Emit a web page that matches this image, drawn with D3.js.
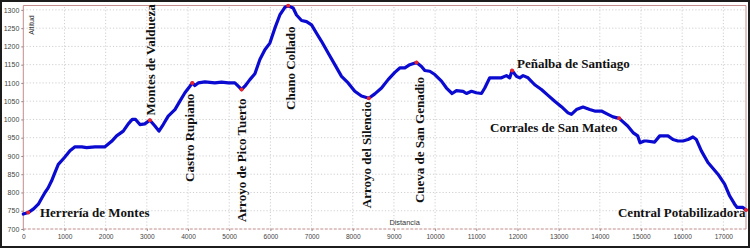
<!DOCTYPE html>
<html>
<head>
<meta charset="utf-8">
<script src="https://cdn.jsdelivr.net/npm/d3@7"></script>
<style>
  html, body { margin: 0; padding: 0; background: #fff; }
  #perfil { width: 750px; height: 252px; }
</style>
</head>
<body>
<div id="perfil"></div>
<script>
// distance along the route (m) and altitude (m)
const distancia = [
  0, 120, 250, 365, 450, 527, 600, 688, 770, 850, 995, 1133, 1255, 1420, 1538, 1740, 1983,
  2145, 2266, 2427, 2549, 2646, 2727, 2832, 2950, 3075, 3197, 3294, 3398, 3519, 3682, 3803,
  3925, 4046, 4103, 4167, 4248, 4410, 4653, 4815, 4977, 5138, 5219, 5300, 5381, 5502, 5624,
  5745, 5867, 5988, 6109, 6230, 6352, 6432, 6553, 6635, 6757, 6878, 7000, 7121, 7242, 7403,
  7565, 7728, 7888, 8050, 8212, 8391, 8536, 8699, 8859, 9022, 9143, 9265, 9386, 9549, 9670,
  9750, 9871, 9993, 10155, 10276, 10413, 10519, 10680, 10762, 10883, 11000, 11126, 11206,
  11327, 11449, 11611, 11733, 11813, 11869, 11976, 12056, 12136, 12257, 12419, 12582, 12743,
  12905, 13068, 13228, 13310, 13432, 13592, 13755, 13876, 14039, 14199, 14320, 14470, 14677,
  14806, 14920, 14976, 15080, 15131, 15332, 15454, 15655, 15777, 15898, 16019, 16141, 16262,
  16345, 16466, 16626, 16869, 17031, 17152, 17274, 17335, 17476, 17550,
];
const altitud = [
  741, 745, 755, 768, 785, 800, 812, 832, 855, 877, 895, 914, 925, 925, 923, 925, 925,
  940, 955, 968, 988, 1000, 1000, 986, 988, 998, 982, 968, 986, 1009, 1027, 1050,
  1073, 1091, 1100, 1093, 1100, 1103, 1100, 1102, 1100, 1100, 1091, 1082, 1091, 1109, 1125,
  1164, 1191, 1209, 1250, 1286, 1307, 1311, 1305, 1286, 1271, 1268, 1259, 1236, 1214, 1182,
  1150, 1118, 1100, 1077, 1064, 1058, 1070, 1086, 1109, 1129, 1141, 1141, 1150, 1156, 1145,
  1134, 1132, 1123, 1105, 1086, 1071, 1079, 1077, 1071, 1077, 1073, 1071, 1086,
  1114, 1114, 1114, 1120, 1114, 1134, 1118, 1114, 1120, 1114, 1095, 1082, 1066,
  1050, 1035, 1018, 1014, 1027, 1034, 1027, 1023, 1023, 1014, 1007, 1003, 982,
  964, 955, 936, 941, 941, 938, 955, 955, 945, 941, 941, 945, 952,
  945, 914, 882, 850, 823, 791, 768, 759, 759, 752,
];

// waypoints (red dots)
const puntosDist = [120, 3075, 4103, 5300, 6432, 8391, 9549, 11869, 14470, 17550];
const puntosAlt = [745, 998, 1100, 1082, 1311, 1058, 1156, 1134, 1003, 752];

// place names, anchored in data units, vertical ones read bottom to top
const lugares = [
  'Herrería de Montes', 'Montes de Valdueza', 'Castro Rupiano', 'Arroyo de Pico Tuerto',
  'Chano Collado', 'Arroyo del Silencio', 'Cueva de San Genadio', 'Peñalba de Santiago',
  'Corrales de San Mateo', 'Central Potabilizadora',
];
const lugaresDist = [405, 3210, 4157, 5408, 6598, 8443, 9730, 11989, 11333, 14441];
const lugaresAlt = [734, 1011, 829, 719, 1026, 757, 771, 1140, 966, 733];
const lugaresVertical = [false, true, true, true, true, true, true, false, false, false];

const ticksX = d3.range(0, 17001, 1000);
const ticksY = d3.range(700, 1301, 50);

const width = 750;
const height = 252;
const margin = {
  top: 5.5, right: 4, bottom: 23, left: 23.3,
};

const svg = d3.select('#perfil')
  .append('svg')
  .attr('width', width)
  .attr('height', height)
  .attr('xmlns', 'http://www.w3.org/2000/svg');

svg.append('rect')
  .attr('width', width)
  .attr('height', height)
  .attr('fill', '#fff');

const x = d3.scaleLinear()
  .domain([0, 17550])
  .range([margin.left, width - margin.right]);

const y = d3.scaleLinear()
  .domain([700, 1312])
  .range([height - margin.bottom, margin.top]);

// grid
svg.append('g')
  .selectAll('line')
  .data(ticksX.slice(1))
  .enter()
  .append('line')
  .attr('x1', (d) => x(d))
  .attr('x2', (d) => x(d))
  .attr('y1', y.range()[0])
  .attr('y2', y.range()[1])
  .attr('stroke', '#cfcfcf')
  .attr('stroke-dasharray', '1.2,2');

svg.append('g')
  .selectAll('line')
  .data(ticksY.slice(1))
  .enter()
  .append('line')
  .attr('x1', x.range()[0])
  .attr('x2', x.range()[1])
  .attr('y1', (d) => y(d))
  .attr('y2', (d) => y(d))
  .attr('stroke', '#cfcfcf')
  .attr('stroke-dasharray', '1.2,2');

// axes
const fmt = d3.format('d');

const axisX = svg.append('g')
  .attr('transform', `translate(0,${y.range()[0]})`)
  .call(d3.axisBottom(x).tickValues(ticksX).tickFormat(fmt).tickSize(2).tickPadding(3));

const axisY = svg.append('g')
  .attr('transform', `translate(${x.range()[0]},0)`)
  .call(d3.axisLeft(y).tickValues(ticksY).tickFormat(fmt).tickSize(2).tickPadding(2));

[axisX, axisY].forEach((a) => {
  a.select('.domain').remove();
  a.selectAll('line').attr('stroke', '#888');
  a.selectAll('text')
    .attr('fill', '#444')
    .style('font-family', 'Liberation Sans, Arial, sans-serif')
    .style('font-size', '7px');
});
axisX.selectAll('text').style('font-size', '6.6px');

// plot frame
const frameColor = '#c38c8c';
svg.append('line')
  .attr('x1', x.range()[0]).attr('x2', x.range()[1])
  .attr('y1', y.range()[1]).attr('y2', y.range()[1])
  .attr('stroke', frameColor).attr('stroke-width', 1.2);
svg.append('line')
  .attr('x1', x.range()[0]).attr('x2', x.range()[1])
  .attr('y1', y.range()[0]).attr('y2', y.range()[0])
  .attr('stroke', frameColor).attr('stroke-dasharray', '3,1.5');
svg.append('line')
  .attr('x1', x.range()[0]).attr('x2', x.range()[0])
  .attr('y1', y.range()[0]).attr('y2', y.range()[1])
  .attr('stroke', frameColor);
svg.append('line')
  .attr('x1', x.range()[1]).attr('x2', x.range()[1])
  .attr('y1', y.range()[0]).attr('y2', y.range()[1])
  .attr('stroke', frameColor);

// axis titles
svg.append('text')
  .attr('transform', `translate(34,${y(1232)}) rotate(-90)`)
  .style('font-family', 'Liberation Sans, Arial, sans-serif')
  .style('font-size', '7px')
  .attr('fill', '#333')
  .text('Altitud');

svg.append('text')
  .attr('x', x(8890))
  .attr('y', y(711))
  .style('font-family', 'Liberation Sans, Arial, sans-serif')
  .style('font-size', '7.4px')
  .attr('fill', '#333')
  .text('Distancia');

// elevation profile
const perfil = d3.zip(distancia, altitud);

svg.append('path')
  .datum(perfil)
  .attr('fill', 'none')
  .attr('stroke', '#0a0ad0')
  .attr('stroke-width', 3.2)
  .attr('stroke-linejoin', 'round')
  .attr('stroke-linecap', 'round')
  .attr('d', d3.line().x((d) => x(d[0])).y((d) => y(d[1])));

svg.append('g')
  .selectAll('circle')
  .data(d3.zip(puntosDist, puntosAlt))
  .enter()
  .append('circle')
  .attr('cx', (d) => x(d[0]))
  .attr('cy', (d) => y(d[1]))
  .attr('r', 2)
  .attr('fill', '#e8262a');

// place labels
svg.append('g')
  .selectAll('text')
  .data(lugares)
  .enter()
  .append('text')
  .attr('transform', (d, i) => {
    const tx = x(lugaresDist[i]);
    const ty = y(lugaresAlt[i]);
    return lugaresVertical[i] ? `translate(${tx},${ty}) rotate(-90)` : `translate(${tx},${ty})`;
  })
  .style('font-family', 'Liberation Serif, Times New Roman, serif')
  .style('font-weight', 'bold')
  .style('font-size', '13px')
  .attr('fill', '#111')
  .text((d) => d);

// outer frame
svg.append('rect')
  .attr('x', 1)
  .attr('y', 1)
  .attr('width', width - 2)
  .attr('height', 246)
  .attr('fill', 'none')
  .attr('stroke', '#1c1c1c')
  .attr('stroke-width', 2);
</script>
</body>
</html>
